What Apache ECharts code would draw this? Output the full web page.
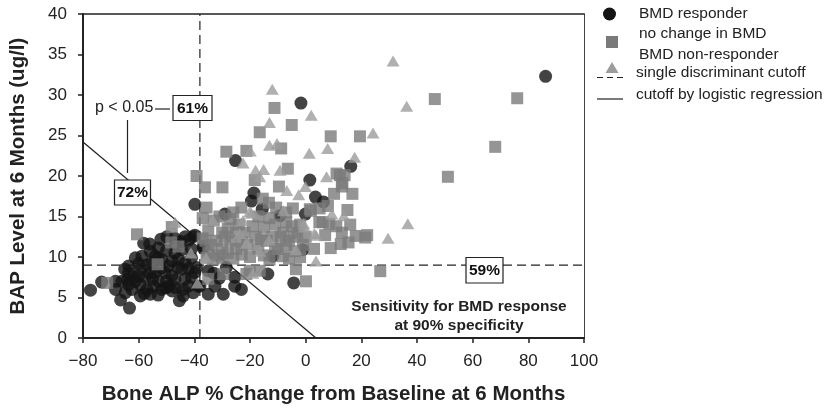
<!DOCTYPE html>
<html><head><meta charset="utf-8">
<script src="https://cdn.jsdelivr.net/npm/echarts@6/dist/echarts.min.js"></script>
<style>html,body{margin:0;padding:0;background:#fff}#c{width:829px;height:410px}</style>
</head><body><div id="c"></div>
<script>
// ---- data ----
const xTicks = [-80,-60,-40,-20,0,20,40,60,80,100];
const yTicks = [0,5,10,15,20,25,30,35,40];
const responder = [
 [86.2,32.3],[-1.7,29.0],[16.2,21.2],[1.5,19.5],[3.5,17.4],[6.4,16.8],[-0.1,15.3],[-1,10.9],
 [-25.2,21.9],[-18.6,17.9],[-19.5,16.9],[-15.6,15.9],[-39.8,16.5],[-29,15.3],[-9.2,15.1],[-11.8,10.1],
 [-39.8,12.7],[-36.8,11.1],[-39.2,8.7],[-35,8.3],[-29.6,5.4],[-35,5.4],[-23.1,6.0],[-25.5,6.4],
 [-25.5,7.5],[-28.5,8.7],[-32.6,6.4],[-38,6.4],[-13.6,7.9],[-4.3,6.8],
 [-77.3,5.9],[-73.3,6.9],[-63.3,3.7],[-66.5,4.7],[-45.4,4.6],[-58.2,11.7],[-40.4,12.5],[-40.4,5.6],
 [-59.4,5.2],[-55.8,5.4],[-50.2,6.2],[-46.7,6.2],[-68.3,6.0],[-66,7.0],[-63.6,8.1],[-63.6,6.6],
 [-59.4,6.6],[-59.4,8.5],[-58.8,10.1],[-55.8,10.7],[-52.9,11.1],[-49.9,12.5],[-47,10.5],[-51.7,9.7],
 [-49.3,8.9],[-54,8.1],[-57.6,7.5],[-52.9,7.0],[-48.1,7.7],[-44.5,8.5],[-43.3,7.3],[-41,7.5],
 [-39.8,8.1],[-45.7,9.7],[-43.3,9.3],[-55.3,9.3],[-50.5,8.1],[-61.2,7.0],[-68.3,7.0],[-64.8,5.6],
 [-62.4,6.0],[-51.7,6.0],[-49.3,6.4],[-54.6,6.4],[-42.1,6.4],[-38.6,6.4],[-54,10.1],[-46.9,11.5],
 [-44.5,10.9],[-43.3,12.5],[-42,12.1],[-36.8,11.3],[-61.2,9.9],[-63.6,8.9],
 [-65,8.5],[-62,7.5],[-60,9.2],[-57,9],[-57,6],[-56,8],[-53,9.8],[-52,8.6],[-50,10.8],[-48,9.5],
 [-47,7.2],[-46,8.7],[-44,6],[-42,8.6],[-41,9.9],[-50,7],[-55,7.3],[-60,7.7],[-64,7.2],[-58,5.5],
 [-53,5.3],[-48,5.8],[-44,5.2],[-47,12.3],[-52,12.2],[-56,11.6],[-45,11.9],[-41,11],[-33,8],[-31,7.4]
];
const noChange = [
 [46.4,29.5],[76,29.6],[68.1,23.6],[51.1,19.9],[21.4,12.4],[26.8,8.25],[19.5,24.9],[9.0,24.9],
 [-5,26.3],[12.3,20.1],[13,18.7],[10.2,17.8],[16.8,17.8],[1.5,15.9],[15,15.8],[4.9,14.3],
 [8.5,14.1],[7,12.7],[9,11.1],[12.6,11.6],[15.4,11.8],[-16.5,25.4],[-8.8,23.4],[-28.5,23.0],
 [-21.3,23.1],[-18.3,19.5],[-6.4,20.9],[-36.2,18.6],[-29.9,18.6],[-39.2,20.0],[-9.6,18.7],[-15.4,17.2],
 [-13.2,16.7],[-35.6,16.1],[-23.1,16.1],[-10.6,16.1],[-7,15.5],[1.9,15.7],[-11.2,28.4],[11.1,20.3],
 [14,20.1],[13.2,19.1],[-4.6,16],[6.1,14.3],[22.1,12.7],
 [0.1,7.0],[-29.6,7.9],[-35,7.3],[-33.2,9.7],[-16.5,8.3],[-20.1,8.3],[-21.3,7.9],[-3.5,8.5],
 [-8.2,10.1],[-4,10.7],[-71.3,6.8],[-60.6,12.8],[-53.2,9.1],[-48.1,13.7],[-48.3,11.8],[-45.7,11.3],
 [-35,13.3],[-32,12],[-28,13.5],[-25,11],[-22,13],[-18,12.5],[-15,13.7],[-12,12.5],
 [-10,11],[-8,13],[-6,12],[-3,13],[-1,11.5],[-20,10],[-26,9.8],[-30,11],[-35,10.5],[-37,12.3],
 [-36,12],[-33,14.5],[-30,13],[-27,12],[-24,14],[-21,11.5],[-17,11],[-14,12],[-11,14],[-7,11.5],
 [-4,12.5],[-2,14],[-31,10.2],[-23,10.3],[-13,9.7],[-6,9.8],[-35.6,9.9],
 [-37,14.8],[-34,11.5],[-31,15],[-29,12.5],[-27,14.7],[-25,13],[-23,11.8],[-19,13.8],[-16,12.2],
 [-13,14.8],[-9,12.5],[-7,14.3],[-5,13.8],[-2,10],[0,12.5],[-26,15.5],[-17,15],[-30,9.9],[-28,10.5],
 [-11,11],[-15,10.2],[3,11],[5,16],[8,16.3],[11,13.8],[13,13],[16,14],[18,12.6]
];
const nonResponder = [
 [31.4,34.2],[36.3,28.6],[36.7,14.1],[29.6,12.3],[24.2,25.3],[17.6,22.3],[7.9,23.4],[1.3,22.8],
 [2.0,27.5],[7.5,19.9],[-0.1,18.7],[9.4,15.3],[13.7,15.1],[3.7,12.7],[-0.5,13.7],[3.7,9.5],
 [-13,23.8],[-10.3,24],[-19.9,23.1],[-22.5,21.6],[-18,20.7],[-15.1,20.8],[-16.5,19.9],[-9.2,20.7],
 [-6.8,18.2],[-2.5,17.7],[-33.2,14.5],[-22.5,14.5],[-19.5,15.4],[-8,15.7],[-0.7,14.1],[-12,30.7],
 [-13,26.6],[-20.1,15.6],[-38.9,6.8],[-16.5,10.7],[-13.2,12.1],[-21.3,11.7],[-23.7,12.9],[3.1,12.9],
 [-3.5,10.9],[-41.2,10.5],[-46.9,14.3],[-35.8,9.9],[-19,8]
];
const singleCutoffX = -38;     // vertical dashed cutoff (Bone ALP % change)
const singleCutoffY = 9;       // horizontal dashed cutoff (BAP level)
const logisticLine = [[-80,24.2],[3.7,0]];
const seriesNames = ['BMD responder','no change in BMD','BMD non-responder','single discriminant cutoff','cutoff by logistic regression'];

// ---- chart ----
const FONT = "'Liberation Sans', Arial, Helvetica, sans-serif";
const chart = echarts.init(document.getElementById('c'), null, {renderer:'canvas'});
const fmt = v => v < 0 ? '\u2212' + Math.abs(v) : String(v);
const dash = {color:'#222', width:1.2, type:[9,5]};
chart.setOption({
  animation:false,
  backgroundColor:'#fff',
  grid:{left:79, right:245, top:14, bottom:65, containLabel:false},
  xAxis:[{
    type:'value', min:xTicks[0], max:xTicks[xTicks.length-1], interval:20,
    axisLine:{onZero:false, lineStyle:{color:'#222', width:2}},
    axisTick:{show:true, length:5, lineStyle:{color:'#222', width:1.5}},
    axisLabel:{formatter:fmt, fontFamily:FONT, fontSize:17, color:'#222', margin:15},
    splitLine:{show:false},
    name:'Bone ALP % Change from Baseline at 6 Months', nameLocation:'middle', nameGap:46,
    nameTextStyle:{fontFamily:FONT, fontSize:20.5, fontWeight:'bold', color:'#222'}
  },{
    type:'value', position:'top', min:xTicks[0], max:xTicks[xTicks.length-1],
    axisLine:{show:true, onZero:false, lineStyle:{color:'#222', width:1.5}},
    axisTick:{show:false}, axisLabel:{show:false}, splitLine:{show:false}
  }],
  yAxis:[{
    type:'value', min:yTicks[0], max:yTicks[yTicks.length-1], interval:5,
    axisLine:{show:true, onZero:false, lineStyle:{color:'#222', width:2}},
    axisTick:{show:true, length:5, lineStyle:{color:'#222', width:1.5}},
    axisLabel:{formatter:fmt, fontFamily:FONT, fontSize:17, color:'#222', margin:16},
    splitLine:{show:false},
    name:'BAP Level at 6 Months (ug/l)', nameLocation:'middle', nameGap:54,
    nameTextStyle:{fontFamily:FONT, fontSize:20.5, fontWeight:'bold', color:'#222'}
  },{
    type:'value', position:'right', min:yTicks[0], max:yTicks[yTicks.length-1],
    axisLine:{show:true, onZero:false, lineStyle:{color:'#444', width:1}},
    axisTick:{show:false}, axisLabel:{show:false}, splitLine:{show:false}
  }],
  series:[
    {name:seriesNames[3], type:'line', data:[[singleCutoffX,0],[singleCutoffX,40]], symbol:'none', lineStyle:dash, z:1},
    {name:seriesNames[3]+' y', type:'line', data:[[xTicks[0],singleCutoffY],[xTicks[xTicks.length-1],singleCutoffY]], symbol:'none', lineStyle:dash, z:1},
    {name:seriesNames[4], type:'line', data:logisticLine, symbol:'none', lineStyle:{color:'#222', width:1.2}, z:1},
    {name:seriesNames[0], type:'scatter', data:responder, symbol:'circle', symbolSize:13,
      itemStyle:{color:'#141414'}, z:3},
    {name:seriesNames[1], type:'scatter', data:noChange, symbol:'rect', symbolSize:12,
      itemStyle:{color:'#7a7a7a'}, z:4},
    {name:seriesNames[2], type:'scatter', data:nonResponder, symbol:'triangle', symbolSize:[13,11],
      itemStyle:{color:'#9c9c9c'}, z:5}
  ],
  graphic:[
    // annotations
    {type:'text', left:95, top:100, z:20, style:{text:'p < 0.05', font:'16px '+FONT, fill:'#222'}},
    {type:'line', z:20, shape:{x1:155,y1:109,x2:170,y2:109}, style:{stroke:'#222', lineWidth:1.2}},
    {type:'line', z:20, shape:{x1:127.5,y1:120,x2:127.5,y2:173}, style:{stroke:'#222', lineWidth:1.2}},
    {type:'rect', z:20, shape:{x:173,y:95.5,width:39,height:25}, style:{fill:'#fff', stroke:'#222', lineWidth:1.2}},
    {type:'text', z:21, x:192.5, y:108.5, style:{text:'61%', font:'bold 15.5px '+FONT, fill:'#111', textAlign:'center', textVerticalAlign:'middle'}},
    {type:'rect', z:20, shape:{x:114.5,y:180,width:36,height:25}, style:{fill:'#fff', stroke:'#222', lineWidth:1.2}},
    {type:'text', z:21, x:132.5, y:192.5, style:{text:'72%', font:'bold 15.5px '+FONT, fill:'#111', textAlign:'center', textVerticalAlign:'middle'}},
    {type:'rect', z:20, shape:{x:466,y:257.5,width:37,height:25.5}, style:{fill:'#fff', stroke:'#222', lineWidth:1.2}},
    {type:'text', z:21, x:484.5, y:270.5, style:{text:'59%', font:'bold 15.5px '+FONT, fill:'#111', textAlign:'center', textVerticalAlign:'middle'}},
    {type:'text', z:21, x:459, y:307, style:{text:'Sensitivity for BMD response', font:'bold 15.5px '+FONT, fill:'#222', textAlign:'center', textVerticalAlign:'middle'}},
    {type:'text', z:21, x:459, y:326, style:{text:'at 90% specificity', font:'bold 15.5px '+FONT, fill:'#222', textAlign:'center', textVerticalAlign:'middle'}},
    // legend
    {type:'circle', z:20, shape:{cx:609.5,cy:14,r:6.5}, style:{fill:'#141414'}},
    {type:'text', z:20, x:639, y:14, style:{text:seriesNames[0], font:'15.5px '+FONT, fill:'#222', textVerticalAlign:'middle'}},
    {type:'rect', z:20, shape:{x:606,y:36,width:12,height:12}, style:{fill:'#7a7a7a'}},
    {type:'text', z:20, x:639, y:34, style:{text:seriesNames[1], font:'15.5px '+FONT, fill:'#222', textVerticalAlign:'middle'}},
    {type:'polygon', z:20, shape:{points:[[612,62],[618.5,73],[605.5,73]]}, style:{fill:'#9c9c9c'}},
    {type:'text', z:20, x:639, y:55, style:{text:seriesNames[2], font:'15.5px '+FONT, fill:'#222', textVerticalAlign:'middle'}},
    {type:'line', z:20, shape:{x1:597,y1:77.5,x2:623,y2:77.5}, style:{stroke:'#222', lineWidth:1.2, lineDash:[6,4]}},
    {type:'text', z:20, x:636, y:73, style:{text:seriesNames[3], font:'15.5px '+FONT, fill:'#222', textVerticalAlign:'middle'}},
    {type:'line', z:20, shape:{x1:597,y1:99,x2:623,y2:99}, style:{stroke:'#222', lineWidth:1.2}},
    {type:'text', z:20, x:636, y:95, style:{text:seriesNames[4], font:'15.5px '+FONT, fill:'#222', textVerticalAlign:'middle'}}
  ]
});
</script></body></html>
